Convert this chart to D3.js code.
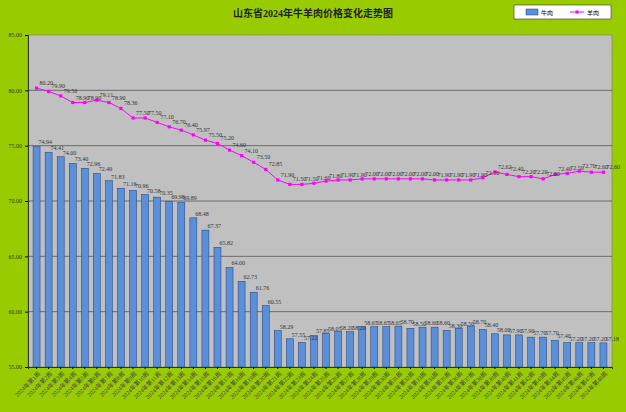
<!DOCTYPE html>
<html><head><meta charset="utf-8">
<script src="https://cdn.jsdelivr.net/npm/d3@7"></script>
<style>body{margin:0;background:#99cc00}</style>
</head><body><svg width="626" height="412"></svg>
<script>
var weeks = d3.range(1, 49).map(function(i) { return "2024年第" + i + "周"; });
var beef = [74.94,74.41,74.00,73.40,72.96,72.49,71.83,71.16,70.96,70.58,70.35,69.98,69.89,68.48,67.37,65.82,64.00,62.73,61.76,60.55,
  58.29,57.55,57.22,57.85,58.05,58.20,58.20,58.65,58.65,58.65,58.70,58.50,58.60,58.60,58.30,58.50,58.70,58.40,58.00,57.90,
  57.90,57.70,57.70,57.40,57.20,57.20,57.20,57.18];
var mutton = [80.20,79.90,79.50,78.90,78.90,79.11,78.90,78.36,77.50,77.50,77.10,76.70,76.40,75.97,75.50,75.20,74.60,74.10,73.50,72.85,
  71.90,71.50,71.50,71.60,71.80,71.90,71.90,72.00,72.00,72.00,72.00,72.00,72.00,71.90,71.90,71.90,71.90,72.10,72.62,72.40,
  72.20,72.20,72.00,72.40,72.50,72.70,72.60,72.60];
var yTicks = [55,60,65,70,75,80,85];
var font = "'Liberation Serif','Noto Sans CJK SC',serif";

var svg = d3.select("svg");
var m = {l: 28, r: 612, t: 35, b: 367};
svg.append("rect").attr("width", 626).attr("height", 412).attr("fill", "#99cc00");
svg.append("rect").attr("x", m.l).attr("y", m.t).attr("width", m.r - m.l).attr("height", m.b - m.t)
  .attr("fill", "#c0c0c0").attr("stroke", "#777").attr("stroke-width", 0.6);

var x = d3.scaleBand().domain(weeks).range([m.l, m.r]).padding(0.42);
var y = d3.scaleLinear().domain([55, 85]).range([m.b, m.t]);

svg.selectAll(".grid").data(yTicks.slice(1, -1)).enter().append("line")
  .attr("x1", m.l).attr("x2", m.r).attr("y1", y).attr("y2", y).attr("stroke", "#555").attr("stroke-width", 0.8);

var yAxis = svg.append("g").attr("transform", "translate(" + m.l + ",0)")
  .call(d3.axisLeft(y).tickValues(yTicks).tickFormat(d3.format(".2f")).tickSize(3));
yAxis.attr("font-family", font).selectAll("text").attr("font-size", 6).attr("fill", "#333");
yAxis.select(".domain").attr("stroke", "#333");

var xAxis = svg.append("g").attr("transform", "translate(0," + m.b + ")")
  .call(d3.axisBottom(x).tickSize(2));
xAxis.attr("font-family", font).selectAll("text").attr("font-size", 6).attr("fill", "#444")
  .attr("text-anchor", "end").attr("dx", "-2").attr("dy", "3").attr("transform", "rotate(-45)");
xAxis.select(".domain").attr("stroke", "#333");

svg.selectAll(".bar").data(beef).enter().append("rect")
  .attr("x", function(d, i) { return x(weeks[i]); })
  .attr("width", x.bandwidth())
  .attr("y", function(d) { return y(d); })
  .attr("height", function(d) { return m.b - y(d); })
  .attr("fill", "#5b8fd8").attr("stroke", "#1f3d7a").attr("stroke-width", 0.5);

svg.selectAll(".bl").data(beef).enter().append("text")
  .attr("x", function(d, i) { return x(weeks[i]) + x.bandwidth() / 2 + 2; })
  .attr("y", function(d) { return y(d) - 2; })
  .attr("font-family", font).attr("font-size", 6).attr("fill", "#333").text(function(d) { return d.toFixed(2); });

var cx = function(d, i) { return x(weeks[i]) + x.bandwidth() / 2; };
svg.append("path").datum(mutton)
  .attr("d", d3.line().x(cx).y(function(d) { return y(d); }))
  .attr("fill", "none").attr("stroke", "#ff00ff").attr("stroke-width", 1);
svg.selectAll(".pt").data(mutton).enter().append("rect")
  .attr("x", function(d, i) { return cx(d, i) - 1.6; }).attr("y", function(d) { return y(d) - 1.6; })
  .attr("width", 3.2).attr("height", 3.2).attr("fill", "#ff00ff");
svg.selectAll(".ml").data(mutton).enter().append("text")
  .attr("x", function(d, i) { return cx(d, i) + 3; })
  .attr("y", function(d) { return y(d) - 3; })
  .attr("font-family", font).attr("font-size", 6).attr("fill", "#333").text(function(d) { return d.toFixed(2); });

svg.append("text").attr("x", 313).attr("y", 17).attr("text-anchor", "middle").attr("font-family", font)
  .attr("font-size", 10).attr("font-weight", "bold").attr("fill", "#222").text("山东省2024年牛羊肉价格变化走势图");

var lg = svg.append("g").attr("transform", "translate(514,5)").attr("font-family", font);
lg.append("rect").attr("width", 97).attr("height", 14).attr("fill", "#fff").attr("stroke", "#333").attr("stroke-width", 0.6);
lg.append("rect").attr("x", 12).attr("y", 4).attr("width", 12).attr("height", 6).attr("fill", "#5b8fd8").attr("stroke", "#1f3d7a").attr("stroke-width", 0.5);
lg.append("text").attr("x", 27).attr("y", 10).attr("font-size", 6).text("牛肉");
lg.append("line").attr("x1", 56).attr("x2", 70).attr("y1", 7).attr("y2", 7).attr("stroke", "#ff00ff");
lg.append("rect").attr("x", 61.5).attr("y", 5.5).attr("width", 3).attr("height", 3).attr("fill", "#ff00ff");
lg.append("text").attr("x", 73).attr("y", 10).attr("font-size", 6).text("羊肉");
</script></body></html>
